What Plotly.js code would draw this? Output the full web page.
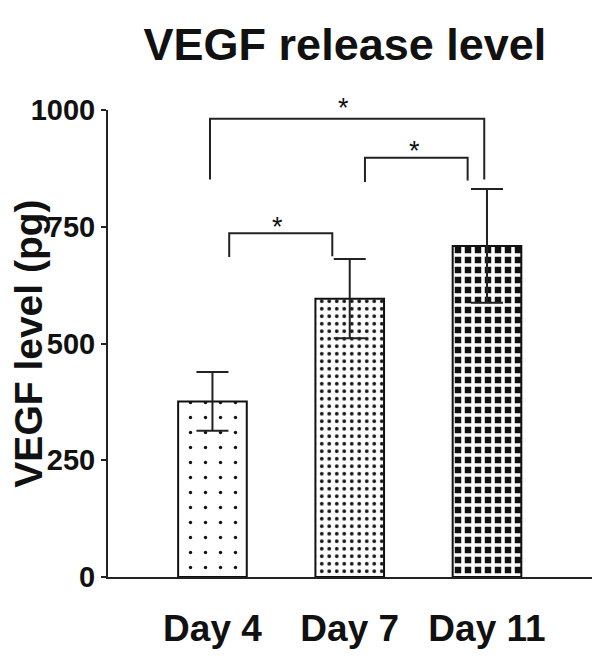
<!DOCTYPE html>
<html>
<head>
<meta charset="utf-8">
<script src="https://cdn.plot.ly/plotly-3.0.1.min.js"></script>
<style>
html,body{margin:0;padding:0;background:#fff;}
#chart{width:601px;height:666px;}
</style>
</head>
<body>
<div id="chart"></div>
<script>
// ---- data ----
var categories = ["Day 4", "Day 7", "Day 11"];
var vegfMean = [376, 596, 709];
var vegfErr = [63, 85, 122];
var yTickVals = [0, 250, 500, 750, 1000];
var yTickText = ["0", "250", "500", "750", "1000"];
var yRange = [0, 1000];

// significance brackets: [xLeft, xRight, yLeftBottom, yRightBottom, yTop]
var bracketXLeft = [0.122, 1.111, -0.018];
var bracketXRight = [0.873, 1.859, 1.980];
var bracketYLeft = [685, 846, 851];
var bracketYRight = [687, 849, 851];
var bracketYTop = [736, 898, 981];
var starX = [0.472, 1.475, 0.953];
var starY = [765, 928, 1020];
var starText = ["*", "*", "*"];

var FONT = "Liberation Sans, Arial, Helvetica, sans-serif";
var INK = "#111";

var trace = {
  type: "bar",
  x: categories,
  y: vegfMean,
  width: 0.5,
  marker: {
    color: "#ffffff",
    line: {color: INK, width: 2},
    pattern: {
      shape: [".", ".", "+"],
      size: [15, 7.5, 10],
      solidity: [0.04, 0.2, 0.58],
      fgcolor: [INK, INK, "#ffffff"],
      bgcolor: ["#ffffff", "#ffffff", INK],
      fillmode: "replace"
    }
  },
  error_y: {
    type: "data",
    array: vegfErr,
    visible: true,
    color: "#222",
    thickness: 2,
    width: 16
  },
  hoverinfo: "skip"
};

var shapes = [];
for (var i = 0; i < bracketXLeft.length; i++) {
  shapes.push({
    type: "path",
    xref: "x", yref: "y",
    path: "M" + bracketXLeft[i] + "," + bracketYLeft[i] +
          " L" + bracketXLeft[i] + "," + bracketYTop[i] +
          " L" + bracketXRight[i] + "," + bracketYTop[i] +
          " L" + bracketXRight[i] + "," + bracketYRight[i],
    line: {color: "#222", width: 2}
  });
}

var annotations = [];
for (var j = 0; j < starX.length; j++) {
  annotations.push({
    xref: "x", yref: "paper",
    x: starX[j],
    y: (starY[j] - yRange[0]) / (yRange[1] - yRange[0]),
    text: starText[j],
    showarrow: false,
    xanchor: "center", yanchor: "middle",
    yshift: -7,
    font: {family: FONT, size: 27, color: INK}
  });
}
annotations.push({
  xref: "paper", yref: "paper",
  x: -0.165, y: 0.5,
  xanchor: "center", yanchor: "middle",
  textangle: -90,
  text: "VEGF level (pg)",
  showarrow: false,
  font: {family: FONT, size: 39, color: INK, weight: "bold"}
});

var layout = {
  width: 601,
  height: 666,
  paper_bgcolor: "#ffffff",
  plot_bgcolor: "#ffffff",
  margin: {l: 108, r: 9, t: 109.5, b: 89, pad: 0},
  showlegend: false,
  title: {
    text: "VEGF release level",
    x: 0.574, xref: "container", xanchor: "center",
    y: 0.934, yref: "container", yanchor: "middle",
    font: {family: FONT, size: 45, color: INK, weight: "bold"}
  },
  xaxis: {
    type: "category",
    categoryorder: "array",
    categoryarray: categories,
    range: [-0.761, 2.765],
    showline: true, linecolor: "#222", linewidth: 2,
    ticks: "", showgrid: false, zeroline: false,
    tickfont: {family: FONT, size: 37, color: INK, weight: "bold"},
    ticklabelstandoff: 18
  },
  yaxis: {
    range: yRange,
    tickvals: yTickVals,
    ticktext: yTickText,
    showline: true, linecolor: "#222", linewidth: 2,
    ticks: "outside", ticklen: 5, tickwidth: 2, tickcolor: "#222",
    showgrid: false, zeroline: false,
    tickfont: {family: FONT, size: 29, color: INK, weight: "bold"}
  },
  shapes: shapes,
  annotations: annotations
};

Plotly.newPlot("chart", [trace], layout, {displayModeBar: false, staticPlot: true});
</script>
</body>
</html>
